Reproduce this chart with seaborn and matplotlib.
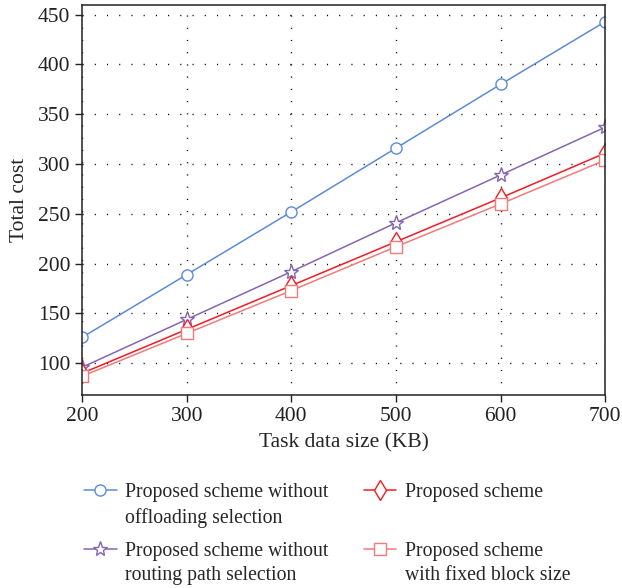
import matplotlib
matplotlib.use("Agg")
import matplotlib.pyplot as plt
from matplotlib.lines import Line2D
import pandas as pd
import seaborn as sns

# Task data size (KB)
data_size = [200, 300, 400, 500, 600, 700]

# Total cost for each scheme
cost_no_offloading = [126, 189, 252, 316, 380, 443]
cost_no_routing = [96, 144, 192, 241, 289, 337]
cost_proposed = [90, 134, 178, 222, 266, 311]
cost_fixed_block = [87, 130, 173, 217, 260, 304]

# Legend text, one list per entry (first line beside the marker)
labels = [
    ["Proposed scheme without", "offloading selection"],
    ["Proposed scheme without", "routing path selection"],
    ["Proposed scheme", ""],
    ["Proposed scheme", "with fixed block size"],
]

sns.set_style("ticks")
plt.rcParams["font.family"] = ["Liberation Serif", "DejaVu Serif"]
plt.rcParams["font.size"] = 15

fig = plt.figure(figsize=(6.22, 5.88), dpi=100)
ax = fig.add_axes([0.132, 0.328, 0.841, 0.664])

styles = [
    (cost_no_offloading, "#5b8bd8", "o", 8),
    (cost_no_routing, "#8466b0", "*", 11),
    (cost_proposed, "#ee1c24", "d", 10),
    (cost_fixed_block, "#f27a7a", "s", 8),
]

for vals, color, marker, ms in styles:
    df = pd.DataFrame({"size": data_size, "cost": vals})
    sns.lineplot(data=df, x="size", y="cost", ax=ax, color=color,
                 marker=marker, markersize=ms, markerfacecolor="white",
                 markeredgecolor=color, markeredgewidth=1.0, linewidth=1.1)

ax.set_xlim(200, 700)
ax.set_ylim(68, 460)
ax.set_xticks(data_size)
ax.set_yticks([100, 150, 200, 250, 300, 350, 400, 450])
ax.grid(True, color="black", linestyle=(0, (0.8, 8)), linewidth=1.0)
for s in ax.spines.values():
    s.set_visible(True)
    s.set_linewidth(1.1)
    s.set_color("#222222")
ax.tick_params(direction="out", length=5, width=1, colors="#222222",
               labelsize=15.5)
ax.set_xlabel("Task data size (KB)", fontsize=15.5, labelpad=5)
ax.set_ylabel("Total cost", fontsize=15.5, labelpad=6)

# Two-line legend entries: marker sits beside the first line
blank = Line2D([], [], linestyle="none")
legend_kw = dict(loc="upper left", frameon=False, fontsize=14.2,
                 handlelength=1.65, handletextpad=0.45, labelspacing=0.3,
                 borderaxespad=0, borderpad=0)
anchors = [(0.135, 0.179), (0.135, 0.079), (0.585, 0.179), (0.585, 0.079)]
for (vals, color, marker, ms), lab, anchor in zip(styles, labels, anchors):
    h = Line2D([], [], color=color, marker=marker, markersize=ms,
               markerfacecolor="white", markeredgecolor=color, linewidth=1.1)
    fig.legend([h, blank], lab, bbox_to_anchor=anchor, **legend_kw)

fig.savefig("out.png", dpi=100)
